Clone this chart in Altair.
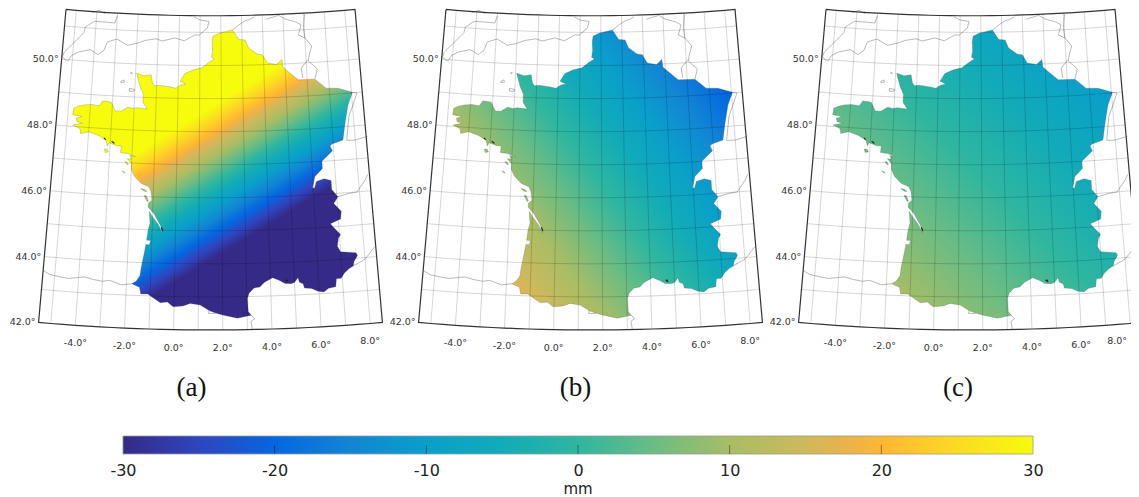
import altair as alt
import pandas as pd

PARULA_OFFSETS = [0, 0.083, 0.167, 0.25, 0.333, 0.417, 0.5, 0.583, 0.667, 0.75, 0.79, 0.833, 0.875, 0.92, 1]
PARULA = ["#352A87", "#2F45BF", "#0567E0", "#1285D4", "#0A9FCA", "#12ABB8", "#2FB6A0", "#6BBC84", "#A8BD65",
          "#CEB95C", "#E8B24E", "#FDB733", "#FFC82C", "#FBDC22", "#F7FB0C"]

FRANCE = [
    (2.55, 51.07), (2.2, 51.02), (1.9, 50.97), (1.62, 50.88), (1.58, 50.7), (1.6, 50.45), (1.55, 50.25), (1.68, 50.2),
    (1.4, 50.08), (1.1, 49.93), (0.7, 49.87), (0.3, 49.75), (0.08, 49.52), (0.35, 49.44), (0.1, 49.4), (-0.1, 49.3),
    (-0.35, 49.34), (-0.9, 49.38), (-1.1, 49.36), (-1.2, 49.45), (-1.27, 49.69), (-1.6, 49.65), (-1.95, 49.72),
    (-1.85, 49.5), (-1.75, 49.3), (-1.6, 49.1), (-1.6, 48.85), (-1.4, 48.65), (-1.85, 48.68), (-2.05, 48.65),
    (-2.3, 48.68), (-2.6, 48.55), (-2.85, 48.55), (-3.05, 48.8), (-3.2, 48.82), (-3.45, 48.83), (-3.6, 48.68), (-3.95, 48.7),
    (-4.3, 48.67), (-4.55, 48.62), (-4.75, 48.55), (-4.78, 48.35), (-4.35, 48.32), (-4.6, 48.25), (-4.55, 48.15), (-4.3, 48.12),
    (-4.73, 48.04), (-4.4, 47.95), (-4.35, 47.8), (-4.0, 47.87), (-3.55, 47.78), (-3.2, 47.65), (-3.12, 47.48),
    (-3.05, 47.58), (-2.7, 47.5), (-2.5, 47.5), (-2.52, 47.3), (-2.2, 47.28), (-1.85, 47.2), (-2.1, 47.22), (-2.02, 47.12),
    (-2.2, 47.12), (-2.0, 46.98), (-2.0, 46.8), (-1.85, 46.6), (-1.55, 46.4), (-1.2, 46.3), (-1.1, 46.15), (-1.05, 45.9),
    (-1.2, 45.8), (-1.2, 45.68), (-0.95, 45.5), (-0.65, 45.15), (-0.55, 44.9), (-0.72, 45.15), (-1.0, 45.4),
    (-1.15, 45.55), (-1.1, 45.2), (-1.17, 45.0), (-1.22, 44.68), (-1.05, 44.68), (-1.1, 44.55), (-1.25, 44.55),
    (-1.3, 44.3), (-1.4, 43.9), (-1.45, 43.6), (-1.6, 43.43), (-1.78, 43.35), (-1.45, 43.25), (-1.39, 43.05),
    (-1.1, 43.06), (-0.86, 42.94), (-0.57, 42.8), (-0.28, 42.83), (-0.04, 42.69), (0.37, 42.72), (0.66, 42.8),
    (1.07, 42.75), (1.48, 42.57), (1.77, 42.5), (2.0, 42.45), (2.6, 42.35), (3.17, 42.43), (3.05, 42.55),
    (3.03, 42.95), (3.1, 43.1), (3.3, 43.25), (3.55, 43.28), (3.75, 43.42), (4.1, 43.55), (4.4, 43.45), (4.6, 43.36),
    (4.85, 43.35), (5.0, 43.38), (5.15, 43.52), (5.2, 43.38), (5.35, 43.33), (5.4, 43.2), (5.7, 43.17), (5.95, 43.08),
    (6.2, 43.05), (6.4, 43.15), (6.7, 43.18), (6.75, 43.42), (6.95, 43.43), (7.1, 43.58), (7.3, 43.7), (7.5, 43.78),
    (7.53, 43.9), (7.7, 44.08), (7.65, 44.17), (7.0, 44.23), (6.88, 44.4), (6.95, 44.65), (7.05, 44.75), (6.75, 45.0),
    (6.65, 45.1), (7.1, 45.22), (7.15, 45.45), (6.85, 45.7), (7.05, 45.9), (6.8, 46.13), (6.8, 46.4), (6.5, 46.47),
    (6.15, 46.4), (6.05, 46.2), (5.97, 46.22), (6.1, 46.55), (6.45, 46.78), (6.45, 47.0), (6.95, 47.3), (6.85, 47.45),
    (6.95, 47.5), (7.45, 47.6), (7.6, 48.1), (7.8, 48.65), (8.05, 49.02), (7.4, 49.17), (6.85, 49.2), (6.36, 49.49),
    (5.58, 49.5), (4.9, 49.9), (4.86, 50.14), (4.6, 49.99), (4.17, 50.05), (3.95, 50.3), (3.7, 50.33), (3.3, 50.52),
    (3.15, 50.76), (2.85, 50.78),
]
ILE_RE = [(-1.55, 46.24), (-1.4, 46.16), (-1.27, 46.16), (-1.4, 46.22)]
OLERON = [(-1.4, 46.03), (-1.25, 45.85), (-1.2, 45.87), (-1.3, 46.03)]
BELLE_ILE = [(-3.25, 47.38), (-3.2, 47.28), (-3.06, 47.3), (-3.12, 47.38)]
NOIRMOUTIER = [(-2.3, 47.03), (-2.2, 46.95), (-2.15, 46.95), (-2.22, 47.03)]
YEU = [(-2.4, 46.73), (-2.3, 46.68), (-2.28, 46.71), (-2.38, 46.75)]

MORBIHAN_1 = [(-2.95, 47.62), (-2.85, 47.56), (-2.8, 47.58), (-2.9, 47.63)]
MORBIHAN_2 = [(-3.3, 47.7), (-3.22, 47.66), (-3.2, 47.68), (-3.28, 47.72)]
CAMARGUE = [(4.62, 43.47), (4.68, 43.41), (4.74, 43.41), (4.72, 43.47)]
GIRONDE_TIP = [(-0.62, 45.08), (-0.56, 44.97), (-0.53, 44.98), (-0.58, 45.08)]

ENGLAND_S = [
    (-5.47, 50.07), (-5.3, 49.98), (-5.2, 49.96), (-5.05, 50.13), (-4.75, 50.25), (-4.2, 50.35), (-3.8, 50.22),
    (-3.55, 50.35), (-3.4, 50.62), (-2.95, 50.72), (-2.45, 50.55), (-2.0, 50.62), (-1.6, 50.72), (-1.1, 50.78),
    (-0.8, 50.72), (-0.2, 50.82), (0.25, 50.74), (0.75, 50.92), (0.97, 50.92), (1.35, 51.13), (1.43, 51.33),
    (1.0, 51.37), (0.7, 51.47),
]
ENGLAND_N = [
    (-5.47, 50.07), (-5.4, 50.22), (-4.95, 50.55), (-4.55, 50.85), (-4.5, 51.02), (-4.1, 51.21), (-3.47, 51.21),
    (-3.1, 51.2), (-3.0, 51.42),
]
WALES = [(-4.25, 51.47), (-3.9, 51.55), (-3.6, 51.46)]
JERSEY = [(-2.25, 49.25), (-2.02, 49.23), (-2.03, 49.17), (-2.25, 49.17), (-2.25, 49.25)]
GUERNSEY = [(-2.67, 49.45), (-2.53, 49.5), (-2.5, 49.43), (-2.67, 49.42), (-2.67, 49.45)]
ALDERNEY = [(-2.24, 49.72), (-2.16, 49.73), (-2.17, 49.7), (-2.24, 49.72)]
BELGIAN_COAST = [(2.55, 51.07), (2.9, 51.23), (3.2, 51.35), (3.37, 51.37), (3.6, 51.45)]
LOW_COUNTRIES = [(4.2, 51.37), (4.8, 51.47), (5.1, 51.35), (5.6, 51.25), (5.85, 51.15), (5.7, 50.85), (6.0, 50.75), (6.3, 50.5), (6.15, 50.2), (6.1, 50.05), (6.5, 49.8), (6.36, 49.49)]
NL_DE = [(6.05, 51.47), (5.95, 51.05), (6.0, 50.75)]
LUX = [(5.8, 49.55), (5.75, 49.85), (6.1, 50.1)]
BADEN = [(8.05, 49.02), (8.25, 48.98), (8.0, 48.6), (7.8, 48.3), (7.62, 47.6)]
SWISS_N = [(7.6, 47.58), (8.0, 47.57), (8.55, 47.65)]
SWISS_S = [(7.05, 45.9), (7.5, 45.97), (7.9, 46.0), (8.3, 46.35), (8.42, 46.5)]
ITALY = [(7.5, 43.78), (8.0, 43.95), (8.2, 44.1), (8.45, 44.3)]
SPAIN_N = [
    (-5.5, 43.58), (-5.2, 43.47), (-4.7, 43.42), (-4.4, 43.4), (-4.0, 43.45), (-3.75, 43.48), (-3.4, 43.42),
    (-3.0, 43.38), (-2.7, 43.42), (-2.2, 43.3), (-1.78, 43.35),
]
ANDORRA = [(1.45, 42.63), (1.42, 42.5), (1.7, 42.5), (1.75, 42.58)]
SPAIN_E = [(3.17, 42.43), (3.3, 42.32), (3.15, 42.25), (3.2, 42.02)]

NEIGHBOURS = [ENGLAND_S, ENGLAND_N, WALES, JERSEY, GUERNSEY, ALDERNEY, BELGIAN_COAST, LOW_COUNTRIES, NL_DE, LUX,
              BADEN, SWISS_N, SWISS_S, ITALY, SPAIN_N, ANDORRA, SPAIN_E]

LON_GRID = [-5, -4, -3, -2, -1, 0, 1, 2, 3, 4, 5, 6, 7, 8]
LAT_GRID = [43, 44, 45, 46, 47, 48, 49, 50, 51]
LON_EDGES = [-5.5, -5, -4.5, -4, -3.5, -3, -2.5, -2, -1.5, -1, -0.5, 0, 0.5, 1, 1.5, 2, 2.5, 3, 3.5, 4, 4.5, 5, 5.5, 6, 6.5, 7, 7.5, 8, 8.5]
LAT_BOTTOM, LAT_TOP = 42, 51.5
LAT_LABELS = [42, 44, 46, 48, 50]
LON_LABELS = [-4, -2, 0, 2, 4, 6, 8]
BAR_TICKS = [-30, -20, -10, 0, 10, 20, 30]

# gradient endpoints per panel, in fractions of France's bounding box
GRADIENTS = {
    "a": dict(x1=0.438, y1=0.828, x2=0.2035, y2=0.441),
    "b": dict(x1=1.144, y1=0.014, x2=-0.154, y2=0.993),
    "c": dict(x1=1.554, y1=-0.556, x2=-0.551, y2=1.528),
}


def gradient(x1, y1, x2, y2):
    return alt.LinearGradient(
        gradient="linear", x1=x1, y1=y1, x2=x2, y2=y2,
        stops=[alt.GradientStop(offset=o, color=c) for o, c in zip(PARULA_OFFSETS, PARULA)],
    )


def clockwise(pts):
    ring = list(pts) + [pts[0]]
    area = sum(a[0] * b[1] - b[0] * a[1] for a, b in zip(ring, ring[1:]))
    ring = ring[::-1] if area > 0 else ring
    return [[p[0], p[1]] for p in ring]


def feature(kind, coords):
    return {"type": "Feature", "properties": {}, "geometry": {"type": kind, "coordinates": coords}}


land = feature("MultiPolygon", [[clockwise(r)] for r in (FRANCE, ILE_RE, OLERON, BELLE_ILE, NOIRMOUTIER, YEU)])
specks = feature("MultiPolygon", [[clockwise(r)] for r in (MORBIHAN_1, MORBIHAN_2, CAMARGUE, GIRONDE_TIP)])
neighbours = feature("MultiLineString", [[list(p) for p in line] for line in NEIGHBOURS])
grid_lines = [[[lon, LAT_BOTTOM], [lon, LAT_TOP]] for lon in LON_GRID] + \
             [[[lon, lat] for lon in LON_EDGES] for lat in LAT_GRID]
graticule = feature("MultiLineString", grid_lines)
frame_line = [[lon, LAT_TOP] for lon in LON_EDGES] + [[lon, LAT_BOTTOM] for lon in LON_EDGES[::-1]]
frame_line.append(frame_line[0])
frame = feature("LineString", frame_line)

lat_df = pd.DataFrame({"lon": [LON_EDGES[0]] * len(LAT_LABELS), "lat": LAT_LABELS,
                       "t": [f"{v:.1f}°" for v in LAT_LABELS]})
lon_df = pd.DataFrame({"lon": LON_LABELS, "lat": [LAT_BOTTOM] * len(LON_LABELS),
                       "t": [f"{v:.1f}°" for v in LON_LABELS]})

PROJ = alt.Projection(type="conicConformal", parallels=[44, 47.2], rotate=[-1.5, 0, 0],
                      center=[0, 46.75], scale=1893, translate=[202.5, 165])


def geo(feat, **mark):
    return alt.Chart(alt.Data(values=[feat])).mark_geoshape(**mark).project(**PROJ.to_dict())


def lon_text(df, dx=0):
    return alt.Chart(df).mark_text(align="center", baseline="middle", dx=dx, dy=18, font="DejaVu Sans", fontSize=9.5,
                                   color="#333333").encode(
        longitude="lon:Q", latitude="lat:Q", text="t:N").project(**PROJ.to_dict())


def panel(key, caption, cap_x, width, clip=False):
    opts = dict(clip=True) if clip else {}
    if clip:
        # the last longitude label is pulled in so that it stays whole at the page's right edge
        lon_layers = [lon_text(lon_df[lon_df.lon < LON_LABELS[-1]]), lon_text(lon_df[lon_df.lon == LON_LABELS[-1]], dx=-13)]
    else:
        lon_layers = [lon_text(lon_df)]
    layers = [
        geo(neighbours, filled=False, stroke="#808080", strokeWidth=0.55, **opts),
        geo(land, fill=gradient(**GRADIENTS[key]), stroke="#555555", strokeWidth=0.25, **opts),
        geo(specks, fill="#222222", stroke="#222222", strokeWidth=0.3, **opts),
        geo(graticule, filled=False, stroke="#000000", strokeOpacity=0.18, strokeWidth=0.9, **opts),
        geo(frame, filled=False, stroke="#333333", strokeWidth=1.2, **opts),
        alt.Chart(lat_df).mark_text(align="right", baseline="middle", dx=-3, font="DejaVu Sans", fontSize=9.5,
                                    color="#333333").encode(
            longitude="lon:Q", latitude="lat:Q", text="t:N").project(**PROJ.to_dict()),
        *lon_layers,
        alt.Chart(pd.DataFrame({"t": [caption]})).mark_text(
            align="center", baseline="middle", font="Liberation Serif", fontSize=27, color="#111111").encode(
            x=alt.value(cap_x), y=alt.value(380), text="t:N"),
    ]
    return alt.layer(*layers).properties(width=width, height=427)


BAR_X0 = -37.58
BAR_X1 = 36.46
bar_df = pd.DataFrame({"a": [BAR_TICKS[0]], "b": [BAR_TICKS[-1]]})
x_scale = alt.Scale(domain=[BAR_X0, BAR_X1], nice=False, zero=False)
bar = alt.Chart(bar_df).mark_rect(
    fill=gradient(0, 0, 1, 0), stroke="#9a9a9a", strokeWidth=0.8
).encode(
    x=alt.X("a:Q", scale=x_scale, axis=alt.Axis(
        values=BAR_TICKS, domain=False, ticks=False, grid=False, title=None, labelFont="DejaVu Sans",
        labelFontSize=16, labelColor="#222222", labelPadding=8, labelExpr="'' + datum.value")),
    x2="b:Q",
)
tick_df = pd.DataFrame({"v": BAR_TICKS[1:-1]})
ticks = alt.Chart(tick_df).mark_rule(color="#000000", opacity=0.4, strokeWidth=1).encode(
    x=alt.X("v:Q", scale=x_scale), y=alt.value(9), y2=alt.value(18))
unit = alt.Chart(pd.DataFrame({"v": [0], "t": ["mm"]})).mark_text(
    font="DejaVu Sans", fontSize=15, color="#222222", baseline="middle").encode(
    x=alt.X("v:Q", scale=x_scale), y=alt.value(53), text="t:N")
colorbar = alt.layer(bar, ticks, unit).properties(width=1123, height=18)

top = alt.hconcat(panel("a", "(a)", 183.5, 380), panel("b", "(b)", 187.5, 380), panel("c", "(c)", 190, 363, clip=True),
                  spacing=0, bounds="flush")
chart = alt.vconcat(top, colorbar, spacing=0).properties(
    padding=0, background="white"
).configure_view(stroke=None)

chart.save("out.html", embed_options={"renderer": "svg", "actions": False})
